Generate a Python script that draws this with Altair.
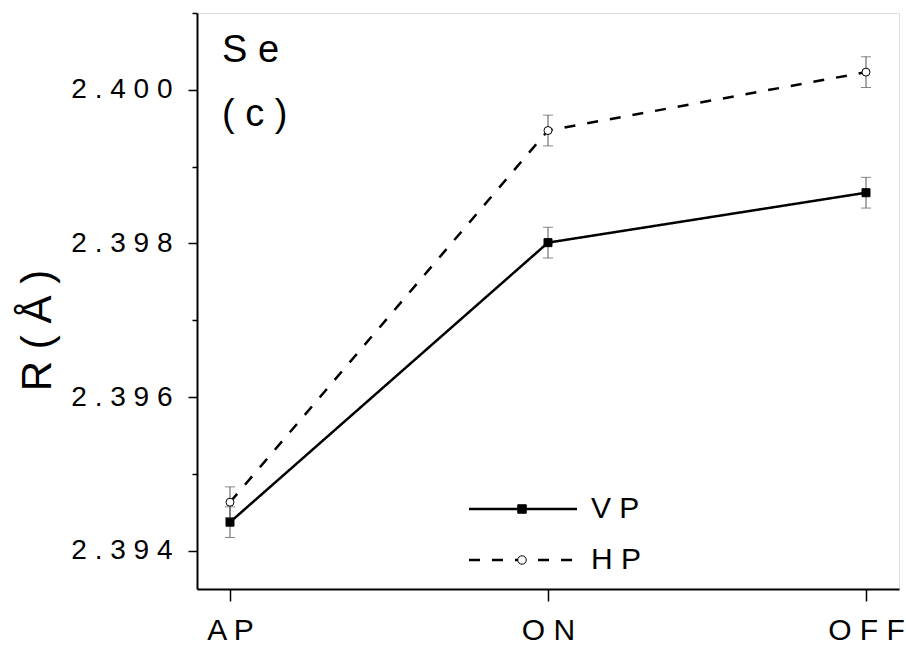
import altair as alt
import pandas as pd

categories = ["AP", "ON", "OFF"]
series_names = ["VP", "HP"]
marker_keys = ["VP marker", "HP marker"]
vp_values = [2.39437, 2.39801, 2.39866]
hp_values = [2.39463, 2.39947, 2.40023]
vp_errors = [0.0002, 0.0002, 0.0002]
hp_errors = [0.0002, 0.0002, 0.0002]
y_tick_values = [2.394, 2.395, 2.396, 2.397, 2.398, 2.399, 2.400, 2.401]

rows = []
for name, key, vals, errs in [("VP", "VP marker", vp_values, vp_errors),
                              ("HP", "HP marker", hp_values, hp_errors)]:
    for c, v, e in zip(categories, vals, errs):
        rows.append({"Stage": c, "Series": name, "Marker": key,
                     "R": v, "lo": v - e, "hi": v + e})
df = pd.DataFrame(rows)

FONT = "Liberation Sans"
spaced = "join(split(datum.label, ''), ' ')"

x_enc = alt.X("Stage:N", sort=categories,
              scale=alt.Scale(type="point", padding=0.1038),
              axis=alt.Axis(title=None, labelExpr=spaced, labelAngle=0,
                            labelFontSize=30, labelPadding=14, tickSize=12,
                            tickWidth=1.5, domainWidth=2, labelFont=FONT,
                            labelColor="black", tickColor="black", domainColor="black"))

y_scale = alt.Scale(domain=[2.3935, 2.401], nice=False, zero=False)
y_axis = alt.Axis(title="R ( Å )", values=y_tick_values, format=".3f",
                  labelExpr="round(datum.value*1000) % 2 == 0 ? " + spaced + " : ''",
                  tickSize={"condition": {"test": "round(datum.value*1000) % 2 == 0", "value": 9}, "value": 5},
                  tickWidth=1.5, domainWidth=2, labelFontSize=28, labelPadding=16,
                  labelFont=FONT, labelColor="black", tickColor="black", domainColor="black",
                  titleFont=FONT, titleFontSize=42, titleFontWeight="normal",
                  titleX=-160, titleY=317, titleBaseline="middle", titleColor="black",
                  grid=False)

base = alt.Chart(df)

err_rules = base.mark_rule(color="#555555", strokeWidth=1).encode(
    x=x_enc, y=alt.Y("lo:Q", scale=y_scale, axis=y_axis), y2="hi:Q")
caps_lo = base.mark_tick(color="#555555", thickness=1, size=10).encode(
    x=x_enc, y=alt.Y("lo:Q", scale=y_scale))
caps_hi = base.mark_tick(color="#555555", thickness=1, size=10).encode(
    x=x_enc, y=alt.Y("hi:Q", scale=y_scale))

lines = base.mark_line(color="black", strokeWidth=2.5).encode(
    x=x_enc, y=alt.Y("R:Q", scale=y_scale),
    strokeDash=alt.StrokeDash("Series:N",
        scale=alt.Scale(domain=series_names, range=[[1, 0], [11, 12]]),
        legend=alt.Legend(title=None, orient="none", legendX=311, legendY=481,
                          symbolType="M-6,0H6", symbolSize=324, symbolStrokeWidth=2.5,
                          symbolStrokeColor="black", symbolFillColor="transparent",
                          labelFontSize=30, labelFont=FONT,
                          labelExpr=spaced, labelOffset=53, rowPadding=21, padding=0,
                          labelColor="black")))

marker_legend = alt.Legend(title=None, orient="none", legendX=310, legendY=481,
                           symbolSize=72, symbolStrokeColor="black", symbolStrokeWidth=1,
                           labelFontSize=30, labelExpr="''", rowPadding=21, padding=0,
                           labelFont=FONT)

points = base.mark_point(filled=False, strokeWidth=1, size=64, opacity=1).encode(
    x=x_enc, y=alt.Y("R:Q", scale=y_scale),
    shape=alt.Shape("Marker:N", scale=alt.Scale(domain=marker_keys, range=["square", "circle"]),
                    legend=marker_legend),
    fill=alt.Fill("Marker:N", scale=alt.Scale(domain=marker_keys, range=["black", "white"]),
                  legend=marker_legend),
    stroke=alt.Stroke("Marker:N", scale=alt.Scale(domain=marker_keys, range=["black", "black"]),
                      legend=marker_legend))

chart = alt.layer(err_rules, caps_lo, caps_hi, lines, points).properties(
    width=702, height=576,
    padding={"left": 197, "top": 13, "right": 7, "bottom": 57},
    autosize=alt.AutoSizeParams(type="none"),
    title=alt.TitleParams(text=["S e", "( c )"], anchor="start", frame="group", orient="top",
                          offset=0, baseline="top", dy=122, dx=25, fontSize=38,
                          fontWeight="normal", lineHeight=64, font=FONT, color="black"),
    background="white",
).configure_view(stroke=None).configure(font=FONT)

chart.save("out.html", embed_options={"renderer": "svg", "actions": False})
